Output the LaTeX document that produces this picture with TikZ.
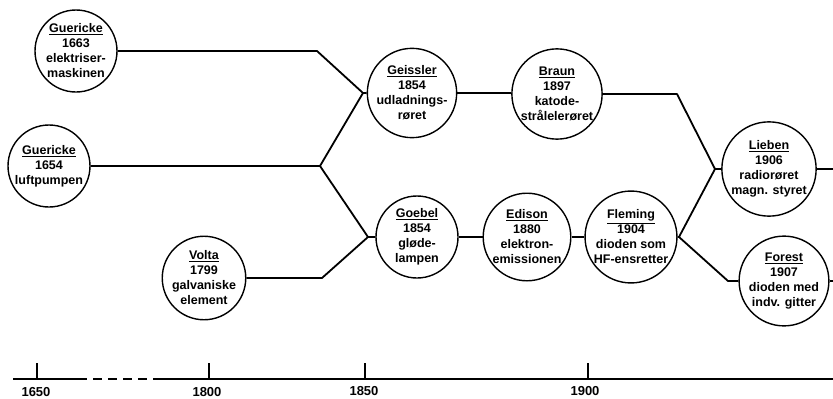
\documentclass[tikz,border=0pt]{standalone}
\usepackage{fontspec}
\setmainfont{Liberation Sans}
\begin{document}
\begin{tikzpicture}[x=1pt,y=-1pt,
  ev/.style={circle,draw,line width=1.4pt,minimum size=82pt,inner sep=0pt,align=center,
    font=\fontsize{12.5}{15}\selectfont\bfseries},
  conn/.style={line width=1.8pt,line join=round},
  axis/.style={line width=2pt},
  tick/.style={line width=2.2pt},
  yr/.style={anchor=base,font=\fontsize{13}{15}\selectfont\bfseries}]
\useasboundingbox (0,0) rectangle (833,399);
% events
\node[ev] (g1663) at (76,51) {\underline{Guericke}\\1663\\elektriser-\\maskinen};
\node[ev] (g1654) at (49,166) {\underline{Guericke}\\1654\\luftpumpen};
\node[ev] (volta) at (204,278) {\underline{Volta}\\1799\\galvaniske\\element};
\node[ev] (geissler) at (412,93) {\underline{Geissler}\\1854\\udladnings-\\røret};
\node[ev] (goebel) at (417,237) {\underline{Goebel}\\1854\\gløde-\\lampen};
\node[ev] (braun) at (557,94) {\underline{Braun}\\1897\\katode-\\strålelerøret};
\node[ev] (edison) at (527,237) {\underline{Edison}\\1880\\elektron-\\emissionen};
\node[ev] (fleming) at (631,237) {\underline{Fleming}\\1904\\dioden som\\HF-ensretter};
\node[ev] (lieben) at (769,169) {\underline{Lieben}\\1906\\radiorøret\\magn. styret};
\node[ev] (forest) at (784,281) {\underline{Forest}\\1907\\dioden med\\indv. gitter};
% junctions and bends
\coordinate (b1) at (317,51);
\coordinate (j1) at (363,93);
\coordinate (j0) at (320,166);
\coordinate (j2) at (368,237);
\coordinate (b2) at (322,278);
\coordinate (b3) at (677,94);
\coordinate (j3) at (715,169);
\coordinate (j4) at (679,237);
\coordinate (b4) at (728,281);
\coordinate (e1) at (833,169);
\coordinate (e2) at (833,281);
% connectors
\draw[conn] (g1663.east) -- (b1) -- (j1) -- (geissler.west);
\draw[conn] (g1654.east) -- (j0) -- (j1);
\draw[conn] (j0) -- (j2) -- (goebel.west);
\draw[conn] (volta.east) -- (b2) -- (j2);
\draw[conn] (geissler.east) -- (geissler.east -| braun.west);
\draw[conn] (braun.east) -- (b3) -- (j3) -- (lieben.west);
\draw[conn] (lieben.east) -- (e1);
\draw[conn] (goebel.east) -- (edison.west);
\draw[conn] (edison.east) -- (fleming.west);
\draw[conn] (fleming.east) -- (j4) -- (j3);
\draw[conn] (j4) -- (b4) -- (forest.west);
\draw[conn] (forest.east) -- (e2);
% time axis
\coordinate (a0) at (13,379);
\coordinate (a1) at (87,379);
\coordinate (d0) at (93,379);
\coordinate (d1) at (147,379);
\coordinate (a2) at (153,379);
\coordinate (a3) at (833,379);
\draw[axis] (a0) -- (a1);
\draw[axis,dash pattern=on 9pt off 6pt] (d0) -- (d1);
\draw[axis] (a2) -- (a3);
\foreach \x/\n in {37/t1650,209/t1800,365/t1850,588/t1900}{
  \coordinate (\n) at (\x,379);
  \draw[tick] (\n) -- ++(0,-16);
}
\node[yr] (y1650) at (36,396) {1650};
\node[yr] (y1800) at (207,396) {1800};
\node[yr] (y1850) at (364,395) {1850};
\node[yr] (y1900) at (585,395) {1900};
\end{tikzpicture}
\end{document}
